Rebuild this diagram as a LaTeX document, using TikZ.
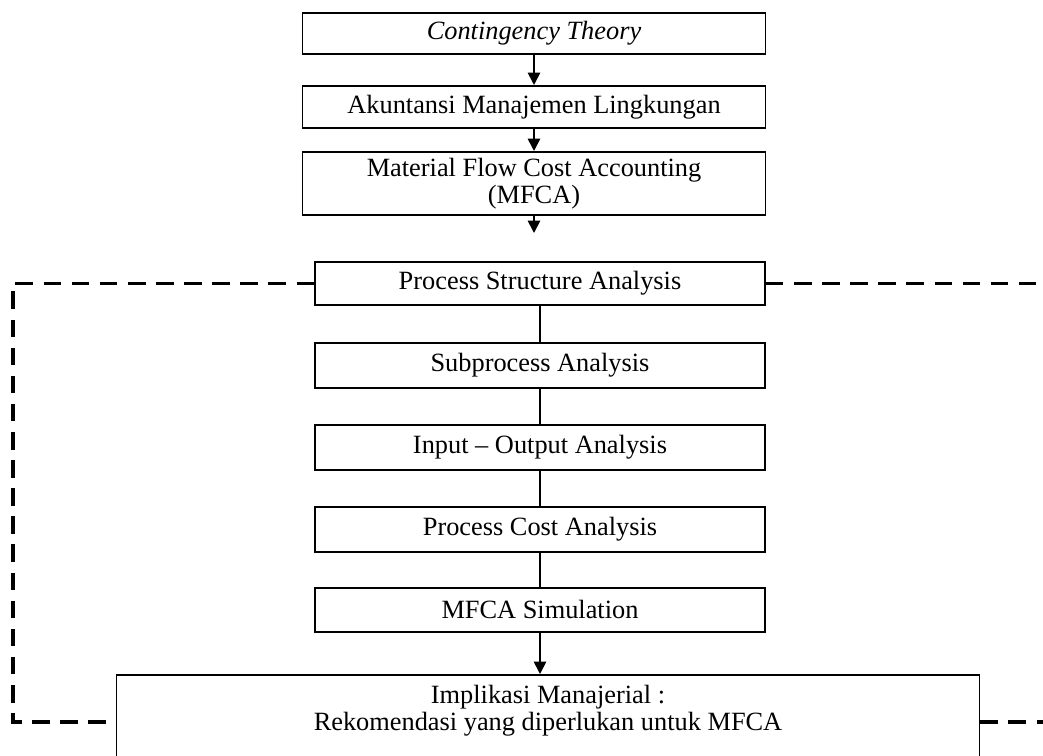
\documentclass[tikz,border=0pt]{standalone}
\usepackage{fontspec}
\setmainfont{Liberation Serif}
\usetikzlibrary{arrows.meta}
\tikzstyle{process} = [
    rectangle,
    minimum width=9.26cm,
    minimum height=0.84cm,
    draw=black,
    line width=1pt,
    align=center,
    font=\fontsize{15}{15.5}\selectfont
]
\tikzstyle{stage} = [
    process,
    minimum width=9cm,
    minimum height=0.9cm
]
\tikzstyle{arrow} = [line width=1pt,-{Triangle[length=7pt,width=7pt]}]
\tikzstyle{link} = [line width=1pt]
\tikzstyle{feedback} = [line width=2pt, dash pattern=on 10pt off 6pt]

\begin{document}
\begin{tikzpicture}[x=0.02cm, y=-0.02cm]
\useasboundingbox (0,0) rectangle (1043,756);
\clip (0,0) rectangle (1043,756);

\node (theory) [process, anchor=north, minimum height=0.82cm] at (534,12)
{\textit{Contingency Theory}};

\node (akm) [process, anchor=north] at (534,85)
{Akuntansi Manajemen Lingkungan};

\node (mfca) [process, anchor=north, minimum height=1.22cm] at (534,151)
{Material Flow Cost Accounting\\(MFCA)};

\node (psa) [stage, anchor=north, minimum height=0.86cm] at (540,261)
{Process Structure Analysis};

\node (spa) [stage, anchor=north] at (540,342)
{Subprocess Analysis};

\node (ioa) [stage, anchor=north] at (540,424)
{Input -- Output Analysis};

\node (pca) [stage, anchor=north] at (540,506)
{Process Cost Analysis};

\node (sim) [stage, anchor=north, minimum height=0.88cm] at (540,587)
{MFCA Simulation};

\node (impl) [process, anchor=north, minimum width=17.26cm, text depth=1.5cm, inner ysep=6pt] at (548,674)
{Implikasi Manajerial :\\Rekomendasi yang diperlukan untuk MFCA};

\coordinate (leftrail) at (13,722);
\coordinate (rightrail) at (1043,722);

\draw [arrow] (theory) -- (akm);
\draw [arrow] (akm) -- (mfca);
\draw [arrow, shorten >=0.56cm] (mfca.south) -- (mfca.south |- psa.north);
\draw [link] (psa) -- (spa);
\draw [link] (spa) -- (ioa);
\draw [link] (ioa) -- (pca);
\draw [link] (pca) -- (sim);
\draw [arrow] (sim.south) -- (sim.south |- impl.north);

% feedback loop
\draw [feedback] (psa.west) -| (leftrail) -- (leftrail -| impl.west);
\draw [feedback] (psa.east) -- (psa.east -| rightrail);
\draw [feedback] (leftrail -| impl.east) -- (rightrail);

\end{tikzpicture}
\end{document}
